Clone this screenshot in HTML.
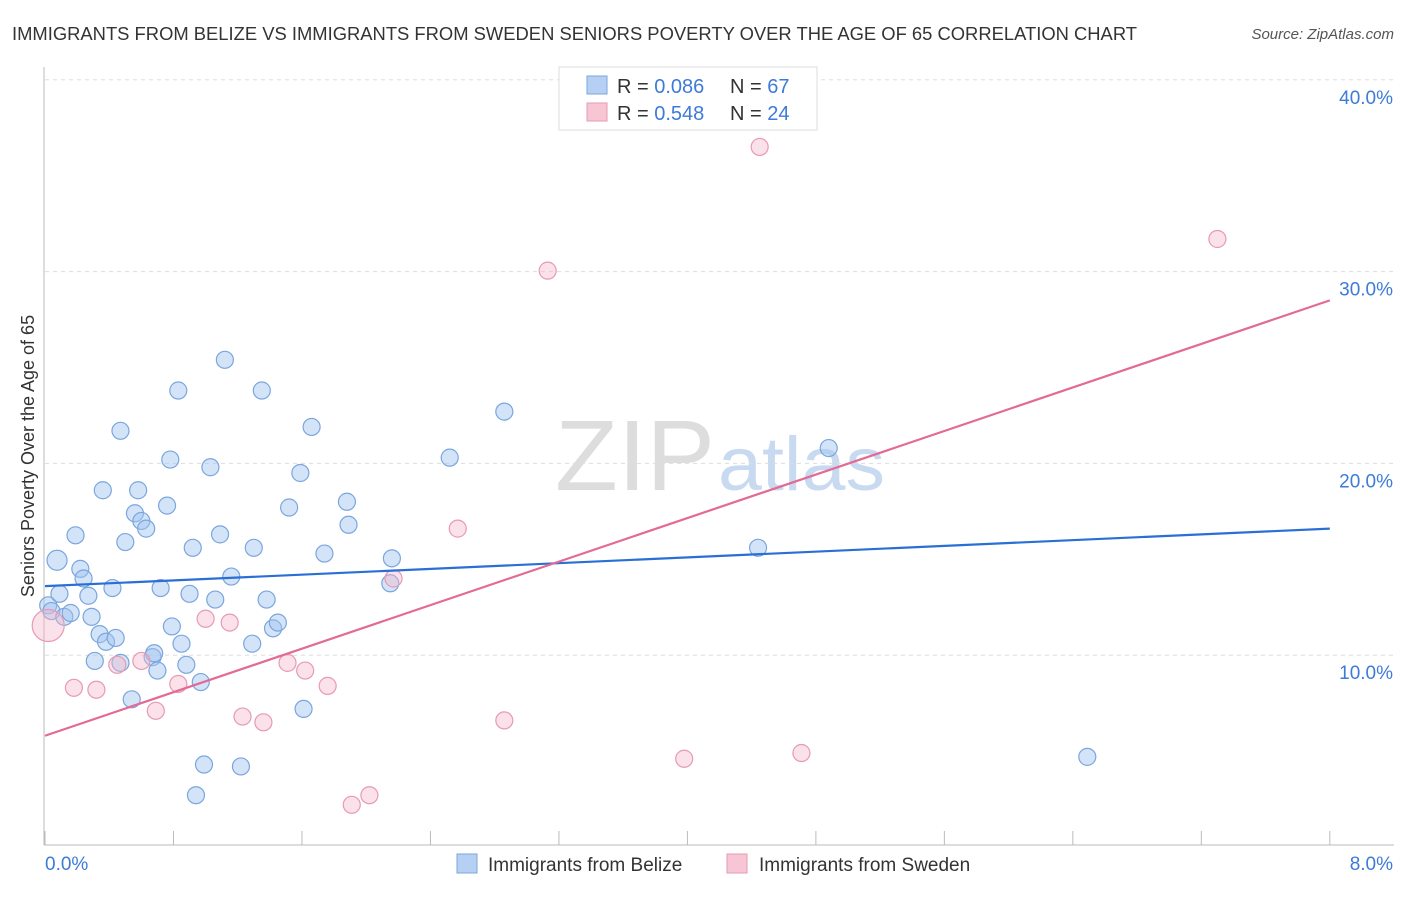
<!DOCTYPE html>
<html><head><meta charset="utf-8"><style>
body{margin:0;background:#fff;font-family:"Liberation Sans",sans-serif;}
svg text{font-family:"Liberation Sans",sans-serif;}
</style></head><body>
<svg id="c" width="1406" height="892">
<text x="12" y="40" font-size="18" fill="#333" textLength="1125" lengthAdjust="spacingAndGlyphs">IMMIGRANTS FROM BELIZE VS IMMIGRANTS FROM SWEDEN SENIORS POVERTY OVER THE AGE OF 65 CORRELATION CHART</text>
<text x="1394" y="39" font-size="15" fill="#555" text-anchor="end" font-style="italic">Source: ZipAtlas.com</text>
<text x="555" y="490" font-size="100" fill="#ddd" textLength="160" lengthAdjust="spacingAndGlyphs" font-family="Liberation Serif">ZIP</text>
<text x="718" y="490" font-size="76" fill="#c8daf0" textLength="167" lengthAdjust="spacingAndGlyphs">atlas</text>
<text transform="translate(34,456) rotate(-90)" font-size="18" fill="#333" text-anchor="middle">Seniors Poverty Over the Age of 65</text>
<g id="grid"></g><g id="pts"></g><g id="lines"></g>
<g>
<rect x="559" y="67" width="258" height="63" fill="#fff" stroke="#ddd"/>
<rect x="587" y="76" width="20" height="18" fill="#b6d0f3" stroke="#7aa6de"/>
<rect x="587" y="103" width="20" height="18" fill="#f8c5d5" stroke="#e79ab4"/>
<text x="617" y="93" font-size="20" fill="#333">R = <tspan fill="#3d7bd8">0.086</tspan></text>
<text x="730" y="93" font-size="20" fill="#333">N = <tspan fill="#3d7bd8">67</tspan></text>
<text x="617" y="120" font-size="20" fill="#333">R = <tspan fill="#3d7bd8">0.548</tspan></text>
<text x="730" y="120" font-size="20" fill="#333">N = <tspan fill="#3d7bd8">24</tspan></text>
</g>
<g>
<rect x="457" y="854" width="20" height="19" fill="#b6d0f3" stroke="#7aa6de"/>
<text x="488" y="871" font-size="19" fill="#333">Immigrants from Belize</text>
<rect x="727" y="854" width="20" height="19" fill="#f8c5d5" stroke="#e79ab4"/>
<text x="759" y="871" font-size="19" fill="#333">Immigrants from Sweden</text>
</g>
</svg>
<script>
const yTicks=[10,20,30,40];
const xTickLabels=["0.0%","8.0%"];
const belizeX=[.075,.02,.09,.04,.12,.16,.19,.22,.24,.27,.29,.31,.34,.36,.38,.42,.44,.47,.47,.50,.54,.56,.58,.60,.63,.67,.68,.70,.72,.76,.78,.79,.83,.85,.88,.90,.92,.94,.97,.99,1.03,1.06,1.09,1.12,1.16,1.22,1.30,1.29,1.35,1.38,1.42,1.45,1.52,1.59,1.61,1.66,1.74,1.88,1.89,2.15,2.16,2.52,2.86,4.44,4.88,6.49];
const belizeY=[14.95,12.6,13.2,12.3,12.0,12.2,16.25,14.5,14.0,13.1,12.0,9.7,11.1,18.6,10.7,13.5,10.9,21.7,9.6,15.9,7.7,17.4,18.6,17.0,16.6,9.9,10.1,9.2,13.5,17.8,20.2,11.5,23.8,10.6,9.5,13.2,15.6,2.7,8.6,4.3,19.8,12.9,16.3,25.4,14.1,4.2,15.6,10.6,23.8,12.9,11.4,11.7,17.7,19.5,7.2,21.9,15.3,18.0,16.8,13.75,15.05,20.3,22.7,15.6,20.8,4.7];
const swedenX=[.02,.18,.32,.45,.60,.69,.83,1.00,1.15,1.23,1.36,1.51,1.62,1.76,1.91,2.02,2.17,2.57,2.86,3.13,3.98,4.45,4.71,7.30];
const swedenY=[11.55,8.3,8.2,9.5,9.7,7.1,8.5,11.9,11.7,6.8,6.5,9.6,9.2,8.4,2.2,2.7,14.0,16.6,6.6,30.05,4.6,36.5,4.9,31.7];
const belizeTrend=[13.6,16.6];
const swedenTrend=[5.8,28.5];
const NS="http://www.w3.org/2000/svg";
const sx=v=>45+v*160.6, sy=v=>847-v*19.18;
function mk(tag,attrs,parent){const e=document.createElementNS(NS,tag);for(const k in attrs)e.setAttribute(k,attrs[k]);parent.appendChild(e);return e;}
const g=document.getElementById('grid');
yTicks.forEach(t=>{
 const l=mk('line',{x1:45,x2:1394,y1:sy(t),y2:sy(t),stroke:'#ddd','stroke-dasharray':'4,4'},g);
 
 
 const tx=mk('text',{x:1393,y:sy(t)+24,'font-size':19,fill:'#3d7bd8','text-anchor':'end'},g);tx.textContent=t.toFixed(1)+'%';
 
 
});
const ax=mk('line',{x1:44,x2:44,y1:67,y2:845,stroke:'#bbb'},g);


const bx=mk('line',{x1:44,x2:1394,y1:845,y2:845,stroke:'#bbb'},g);


for(let i=0;i<=10;i++){const t=mk('line',{x1:sx(i*0.8),x2:sx(i*0.8),y1:831,y2:845,stroke:'#bbb'},g);
 
 }
const x0=mk('text',{x:45,y:870,'font-size':19,fill:'#3d7bd8'},g);x0.textContent=xTickLabels[0];


const x1=mk('text',{x:1393,y:870,'font-size':19,fill:'#3d7bd8','text-anchor':'end'},g);x1.textContent=xTickLabels[1];


const P=document.getElementById('pts');
belizeX.forEach((x,i)=>{const c=mk('circle',{cx:sx(x),cy:sy(belizeY[i]),r:i==0?10:8.5,fill:'rgba(160,195,240,0.45)',stroke:'#7aa6de','stroke-width':1.2},P);
 
 });
swedenX.forEach((x,i)=>{const c=mk('circle',{cx:sx(x),cy:sy(swedenY[i]),r:i==0?16:8.5,fill:'rgba(245,180,200,0.4)',stroke:'#e79ab4','stroke-width':1.2},P);
 
 });
const L=document.getElementById('lines');
const bl=mk('line',{x1:sx(0),y1:sy(belizeTrend[0]),x2:sx(8),y2:sy(belizeTrend[1]),stroke:'#2a6fd6','stroke-width':2.2},L);


const pl=mk('line',{x1:sx(0),y1:sy(swedenTrend[0]),x2:sx(8),y2:sy(swedenTrend[1]),stroke:'#e36a95','stroke-width':2.2},L);


</script>
</body></html>
